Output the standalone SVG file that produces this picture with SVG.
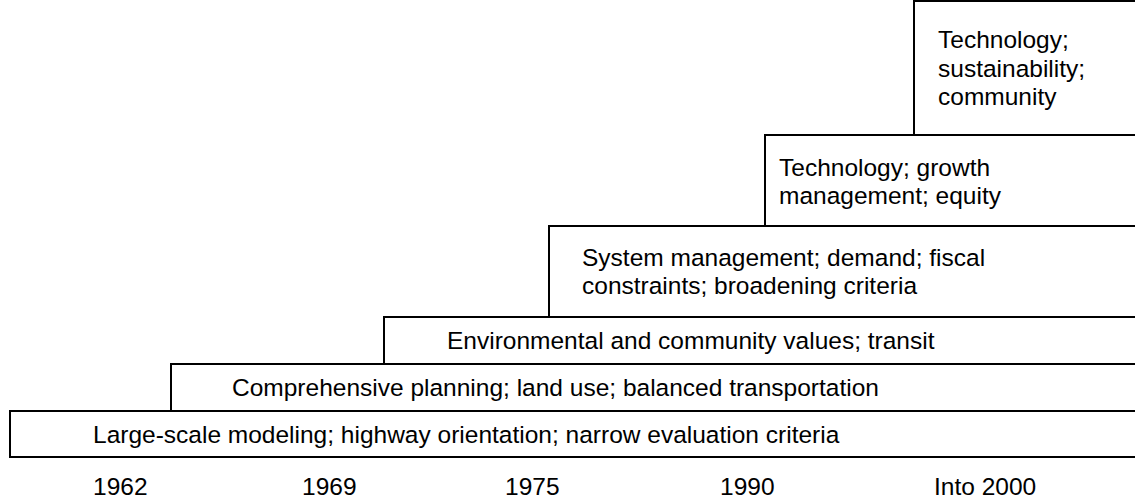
<svg xmlns="http://www.w3.org/2000/svg" width="1135" height="503" viewBox="0 0 1135 503">
<style>
.box{fill:#fff;stroke:#000;stroke-width:2}
text{font-family:"Liberation Sans",Arial,sans-serif;font-size:24.5px;fill:#000}
</style>
<rect width="1135" height="503" fill="#fff"/>
<g id="era6"><rect class="box" x="914" y="1" width="230" height="134"/>
<text x="938" y="48">Technology;</text><text x="938" y="77">sustainability;</text><text x="938" y="105">community</text></g>
<g id="era5"><rect class="box" x="765" y="135" width="380" height="91"/>
<text x="779" y="176">Technology; growth</text><text x="779" y="204">management; equity</text></g>
<g id="era4"><rect class="box" x="549" y="226" width="600" height="91"/>
<text x="582" y="266">System management; demand; fiscal</text><text x="582" y="294">constraints; broadening criteria</text></g>
<g id="era3"><rect class="box" x="384" y="317" width="800" height="47"/>
<text x="447" y="349">Environmental and community values; transit</text></g>
<g id="era2"><rect class="box" x="171" y="364" width="1000" height="47"/>
<text x="232" y="396">Comprehensive planning; land use; balanced transportation</text></g>
<g id="era1"><rect class="box" x="10" y="411" width="1200" height="46"/>
<text x="93" y="443">Large-scale modeling; highway orientation; narrow evaluation criteria</text></g>
<g id="years">
<text x="93" y="495">1962</text><text x="302" y="495">1969</text><text x="505" y="495">1975</text><text x="720" y="495">1990</text><text x="934" y="495">Into 2000</text>
</g>
<g id="connectors"/>
</svg>
